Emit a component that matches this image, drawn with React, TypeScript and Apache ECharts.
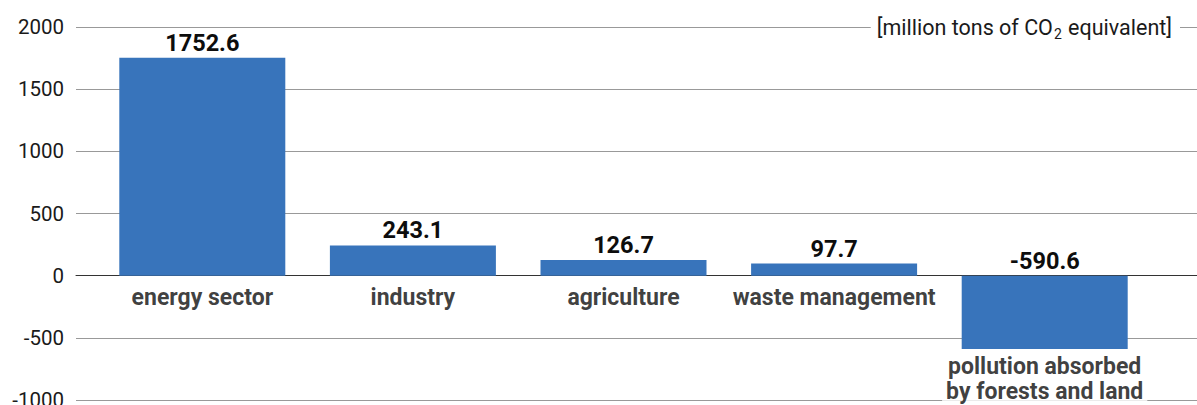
import React, { useEffect, useRef } from "react";
import * as echarts from "echarts";

const categories = [
  "energy sector",
  "industry",
  "agriculture",
  "waste management",
  "pollution absorbed\nby forests and land",
];
const values = [1752.6, 243.1, 126.7, 97.7, -590.6];
const yMin = -1000;
const yMax = 2000;
const yInterval = 500;
const unitParts = ["[million tons of CO", "2", " equivalent]"];

const FONT = "Roboto";

export default function App() {
  const ref = useRef<HTMLDivElement>(null);

  useEffect(() => {
    document.body.style.margin = "0";
    if (!ref.current) return;
    const chart = echarts.init(ref.current, null, { renderer: "svg" });

    const option = {
      animation: false,
      textStyle: { fontFamily: FONT },
      grid: [
        { left: 76, right: 0, top: 27, bottom: 5, outerBoundsMode: "none", containLabel: false },
        { left: 97, right: 47, top: 27, bottom: 5, outerBoundsMode: "none", containLabel: false },
      ],
      xAxis: [
        {
          gridIndex: 0,
          type: "value",
          min: 0,
          max: 1,
          axisLine: { show: true, onZero: true, lineStyle: { color: "#333333", width: 1 } },
          axisTick: { show: false },
          axisLabel: { show: false },
          splitLine: { show: false },
        },
        {
          gridIndex: 1,
          type: "category",
          data: categories,
          show: false,
        },
      ],
      yAxis: [
        {
          gridIndex: 0,
          type: "value",
          min: yMin,
          max: yMax,
          interval: yInterval,
          axisLine: { show: false },
          axisTick: { show: false },
          axisLabel: {
            fontSize: 20.5,
            color: "#1a1a1a",
            margin: 12,
            fontFamily: FONT,
            formatter: (v: number) => String(v),
          },
          splitLine: { show: true, lineStyle: { color: "#999999", width: 1 } },
        },
        {
          gridIndex: 1,
          type: "value",
          min: yMin,
          max: yMax,
          interval: yInterval,
          show: false,
          splitLine: { show: false },
        },
      ],
      series: [
        {
          type: "bar",
          xAxisIndex: 1,
          yAxisIndex: 1,
          data: values,
          barWidth: 166,
          itemStyle: { color: "#3874bb" },
          label: {
            show: true,
            position: "top",
            distance: 3,
            fontSize: 23.5,
            fontWeight: "bold",
            color: "#0d0d0d",
            fontFamily: FONT,
            formatter: (p: any) => Number(p.value).toFixed(1),
          },
        },
        {
          type: "scatter",
          xAxisIndex: 1,
          yAxisIndex: 1,
          symbolSize: 1,
          silent: true,
          itemStyle: { color: "transparent" },
          data: categories.map((c, i) => ({
            value: [i, Math.min(0, values[i])],
            label: {
              distance: values[i] < 0 ? 4 : 9,
              backgroundColor: values[i] < 0 ? "#ffffff" : "transparent",
            },
          })),
          label: {
            show: true,
            position: "bottom",
            fontSize: 23,
            fontWeight: "bold",
            color: "#0d0d0d",
            fontFamily: FONT,
            lineHeight: 25,
            padding: [0, 4, 0, 4],
            align: "center",
            formatter: (p: any) => categories[p.dataIndex],
          },
        },
      ],
      graphic: [
        {
          type: "text",
          x: 1180,
          y: 27,
          z: 100,
          style: {
            text: `{a|${unitParts[0]}}{s|${unitParts[1]}}{a|${unitParts[2]}}`,
            align: "right",
            verticalAlign: "middle",
            backgroundColor: "#ffffff",
            padding: [2, 8, 2, 6],
            rich: {
              a: { fontSize: 21.5, fontFamily: FONT, fill: "#1a1a1a", lineHeight: 25 },
              s: { fontSize: 14, fontFamily: FONT, fill: "#1a1a1a", padding: [14, 1, 0, 1] },
            },
          },
        },
      ],
    };

    chart.setOption(option as any);
    return () => chart.dispose();
  }, []);

  return <div ref={ref} style={{ width: 1197, height: 405 }} />;
}
